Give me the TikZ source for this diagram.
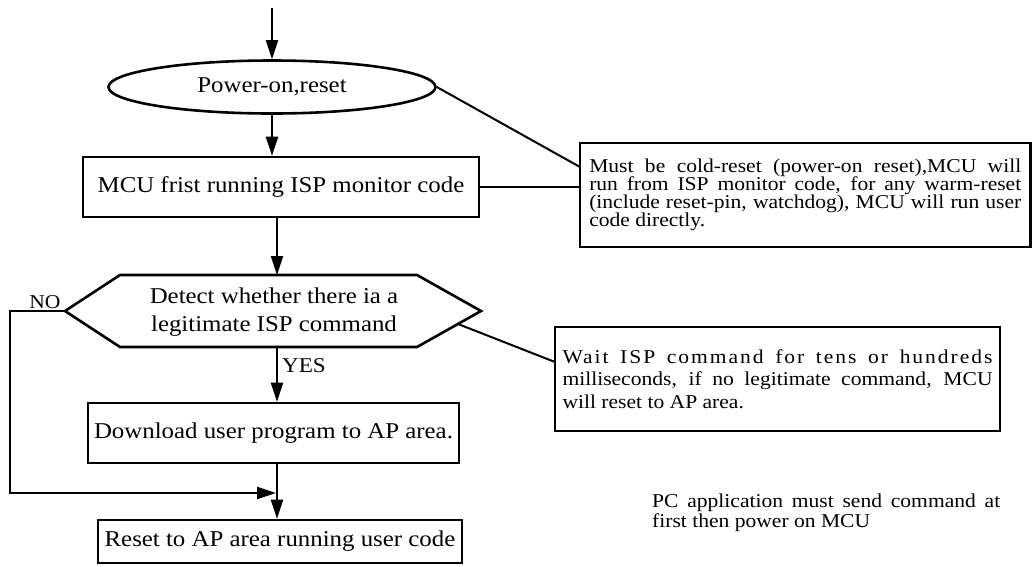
\documentclass[tikz,border=0pt]{standalone}
\usepackage{fontspec}
\setmainfont{Liberation Serif}[FakeStretch=1.1]
\usetikzlibrary{arrows.meta,shapes.geometric}
\newcommand\fsbig{\fontsize{22.6}{28}\selectfont}
\newcommand\fsnote{\fontsize{19.6}{17.8}\selectfont\lineskiplimit=-50pt\tolerance=10000\hyphenpenalty=10000}
\newcommand\fsnoteb{\fontsize{19.6}{22.3}\selectfont\lineskiplimit=-50pt\tolerance=10000\hyphenpenalty=10000}
\newcommand\fspc{\fontsize{19.6}{19.5}\selectfont\lineskiplimit=-50pt\tolerance=10000\hyphenpenalty=10000}
\begin{document}
\begin{tikzpicture}[x=1pt,y=-1pt,
  box/.style={draw, line width=2.6pt, inner sep=0pt, font=\fsbig},
  notebox/.style={draw, line width=2.6pt, inner sep=0pt, align=justify},
  conn/.style={line width=2pt},
  arr/.style={conn, -{Triangle[length=19pt,width=12pt]}},
]
\useasboundingbox (0,0) rectangle (1032,566);

% nodes
\node[ellipse, draw, line width=2.6pt, minimum width=327pt, minimum height=53pt,
      inner sep=0pt, font=\fsbig] (ell) at (272,87) {Power-on,reset};
\node[box, minimum width=396pt, minimum height=60pt] (b1) at (281,187)
      {MCU frist running ISP monitor code};
% hexagon decision
\coordinate (hexL) at (65,311);
\coordinate (hexR) at (481,311);
\coordinate (hexT) at (277,275);
\coordinate (hexB) at (277,347);
\coordinate (hexN) at (458,324);
\draw[line width=2.6pt, line join=miter] (hexL) -- (120,275) -- (417,275) -- (hexR)
      -- (417,347) -- (120,347) -- cycle;
\node[align=center, font=\fsbig, inner sep=0pt] (hex) at (274,312)
      {Detect whether there ia a\\legitimate ISP command};
\node[box, minimum width=371pt, minimum height=60pt] (b2) at (273.5,433)
      {Download user program to AP area.};
\node[box, minimum width=364pt, minimum height=43pt] (b3) at (280,541.5)
      {Reset to AP area running user code};

% notes
\node[notebox, font=\fsnote, text width=432pt, minimum width=450.5pt, minimum height=104pt]
      (n1) at (805.25,195)
      {Must be cold-reset (power-on reset),MCU will\linebreak
       run from ISP monitor code, for any warm-reset\linebreak
       (include reset-pin, watchdog), MCU will run user\linebreak
       code directly.};
\node[notebox, font=\fsnoteb, text width=430pt, minimum width=445pt, minimum height=104pt]
      (n2) at (777.5,379)
      {{\addfontfeature{LetterSpace=10}Wait ISP command for tens or hundreds}\linebreak
       milliseconds, if no legitimate command, MCU\linebreak
       will reset to AP area.};
\node[font=\fspc, text width=348pt, align=justify, inner sep=0pt, anchor=north west]
      (pc) at (652,494)
      {PC application must send command at\linebreak first then power on MCU};

% labels
\node[font=\fontsize{19.6}{22}\selectfont, inner sep=0pt] (nolab) at (45,302) {NO};
\node[font=\fontsize{21}{24}\selectfont, inner sep=0pt, anchor=west] (yeslab) at (282,366) {YES};

% connectors
\coordinate (start) at (272,8);
\coordinate (leftrail) at (10,311);
\coordinate (joinpt) at (276,493);
\coordinate (n1c) at (580,167);
\coordinate (n2c) at (555,362);

\draw[arr] (start) -- (ell.north);
\draw[arr] (ell.south) -- (ell.south |- b1.north);
\draw[arr] (b1.south -| hexT) -- (hexT);
\draw[arr] (hexB) -- (hexB |- b2.north);
\draw[arr] (b2.south -| hexB) -- (b3.north -| hexB);
\draw[arr, line join=miter] (hexL) -- (leftrail) |- (joinpt);
\draw[conn] (ell.east) -- (n1c);
\draw[conn] (b1.east) -- (b1.east -| n1.west);
\draw[conn] (hexN) -- (n2c);
\end{tikzpicture}
\end{document}
